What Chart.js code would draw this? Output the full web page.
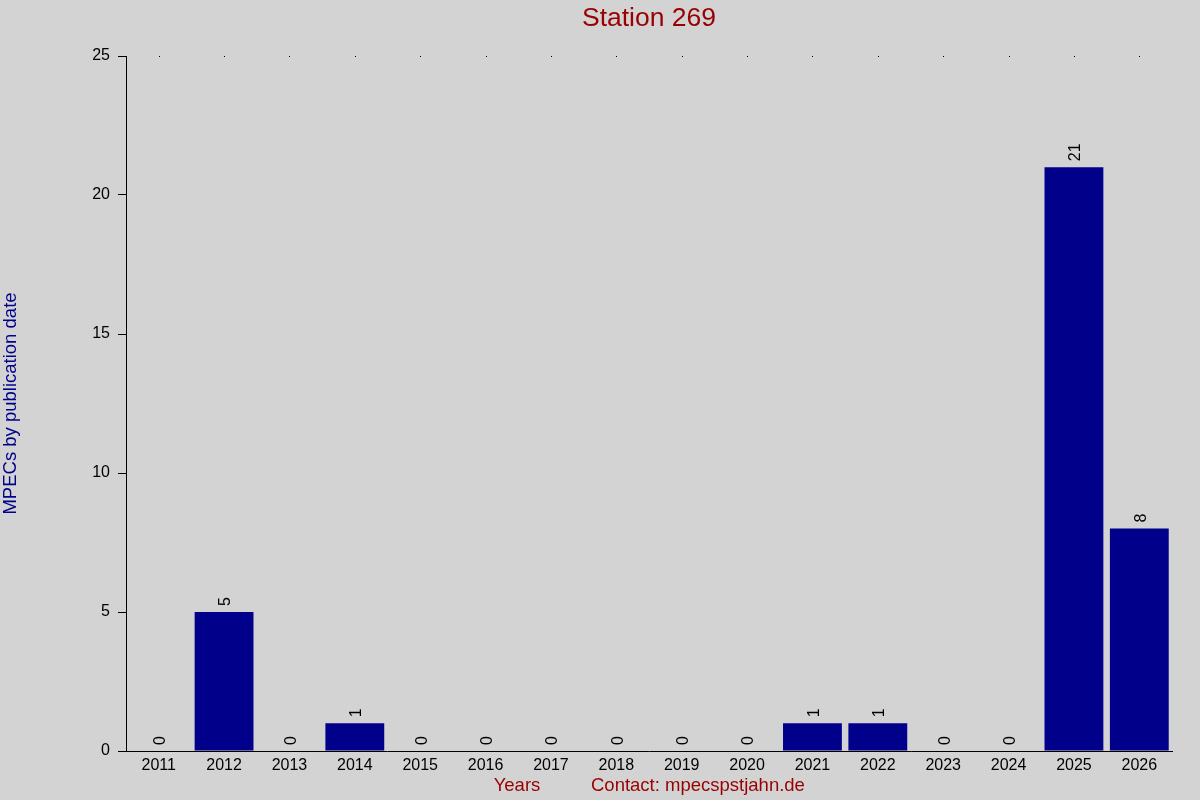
<!DOCTYPE html>
<html>
<head>
<meta charset="utf-8">
<script src="https://cdn.jsdelivr.net/npm/chart.js@4"></script>
<style>
  html, body { margin: 0; padding: 0; background: #d3d3d3; }
  #wrap { width: 1200px; height: 800px; }
</style>
</head>
<body>
<div id="wrap"><canvas id="chart" width="1200" height="800"></canvas></div>
<script>
const years = ['2011', '2012', '2013', '2014', '2015', '2016', '2017', '2018',
               '2019', '2020', '2021', '2022', '2023', '2024', '2025', '2026'];
const mpecs = [0, 5, 0, 1, 0, 0, 0, 0, 0, 0, 1, 1, 0, 0, 21, 8];
const yTicks = [0, 5, 10, 15, 20, 25];

const FONT = '"Liberation Sans", Arial, sans-serif';
const RED = '#990000';
const NAVY = '#00008b';

// background, titles, top dots and rotated value labels
const decorPlugin = {
    id: 'decor',
    beforeDraw(chart) {
        const ctx = chart.ctx;
        ctx.save();
        ctx.fillStyle = '#d3d3d3';
        ctx.fillRect(0, 0, chart.width, chart.height);
        ctx.restore();
    },
    afterDraw(chart) {
        const ctx = chart.ctx;
        const area = chart.chartArea;
        const xs = chart.scales.x;
        ctx.save();

        ctx.fillStyle = RED;
        ctx.font = '26.5px ' + FONT;
        ctx.textAlign = 'center';
        ctx.textBaseline = 'middle';
        ctx.fillText('Station 269', (area.left + area.right) / 2, 19);

        ctx.font = '18.5px ' + FONT;
        ctx.fillText('Years', 517, 786);
        ctx.textAlign = 'left';
        ctx.fillText('Contact: mpecspstjahn.de', 591, 786);

        ctx.save();
        ctx.translate(11, (area.top + area.bottom) / 2);
        ctx.rotate(-Math.PI / 2);
        ctx.fillStyle = NAVY;
        ctx.textAlign = 'center';
        ctx.fillText('MPECs by publication date', 0, 0);
        ctx.restore();

        // little dots along the top edge
        ctx.fillStyle = '#000';
        years.forEach((y, i) => {
            const px = Math.round(xs.getPixelForValue(i));
            ctx.fillRect(px, area.top, 1, 1);
        });

        // value labels above bars, rotated
        ctx.font = '16px ' + FONT;
        ctx.fillStyle = '#000';
        ctx.textAlign = 'left';
        ctx.textBaseline = 'middle';
        chart.getDatasetMeta(0).data.forEach((bar, i) => {
            ctx.save();
            ctx.translate(bar.x + 2, bar.y - 6);
            ctx.rotate(-Math.PI / 2);
            ctx.fillText(String(mpecs[i]), 0, 0);
            ctx.restore();
        });
        ctx.restore();
    }
};

new Chart(document.getElementById('chart'), {
    type: 'bar',
    data: {
        labels: years,
        datasets: [{
            data: mpecs,
            backgroundColor: NAVY,
            borderWidth: 0,
            barPercentage: 0.9,
            categoryPercentage: 1.0
        }]
    },
    options: {
        responsive: false,
        animation: false,
        layout: { padding: { top: 56, right: 28, left: 0, bottom: 0 } },
        plugins: {
            legend: { display: false },
            tooltip: { enabled: false }
        },
        scales: {
            x: {
                grid: { display: false, drawTicks: false },
                border: { display: true, color: '#000', width: 1 },
                ticks: {
                    color: '#000',
                    font: { family: FONT, size: 16 },
                    padding: 5,
                    maxRotation: 0
                },
                afterFit(scale) { scale.height = 49; }
            },
            y: {
                min: 0,
                max: 25,
                afterBuildTicks(scale) { scale.ticks = yTicks.map(v => ({ value: v })); },
                grid: {
                    drawOnChartArea: false,
                    drawTicks: true,
                    tickLength: 8,
                    color: '#000'
                },
                border: { display: true, color: '#000', width: 1 },
                ticks: {
                    color: '#000',
                    font: { family: FONT, size: 16 },
                    padding: 8
                },
                afterFit(scale) { scale.width = 126; }
            }
        }
    },
    plugins: [decorPlugin]
});
</script>
</body>
</html>
